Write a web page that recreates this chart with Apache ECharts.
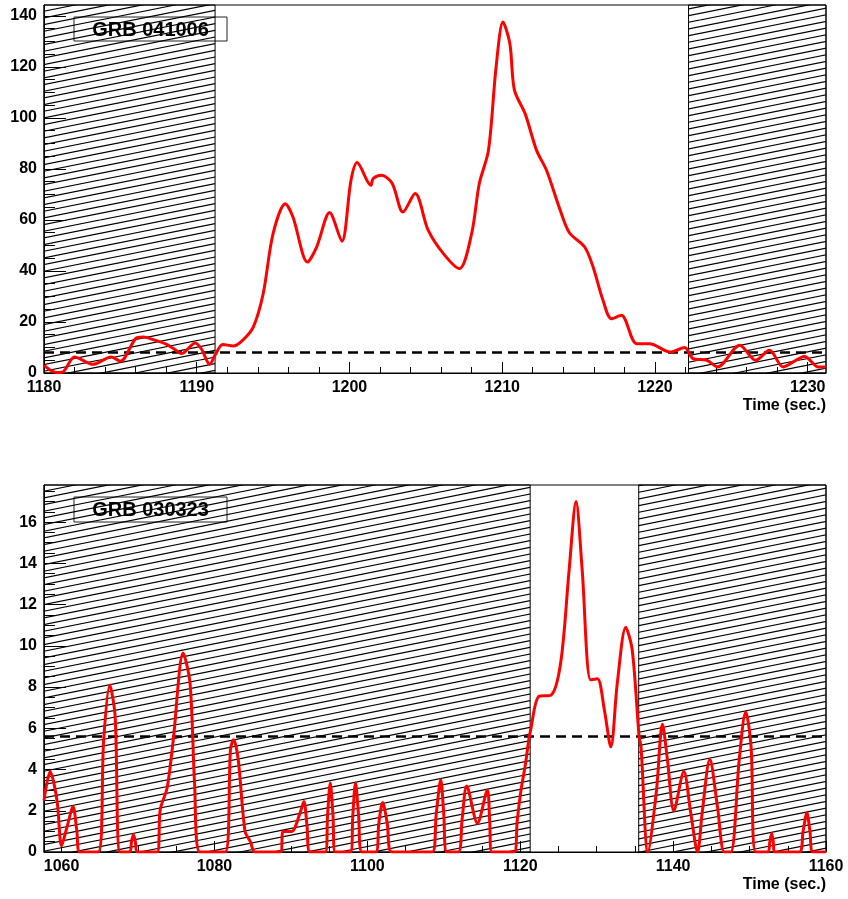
<!DOCTYPE html>
<html>
<head>
<meta charset="utf-8">
<script src="https://cdn.jsdelivr.net/npm/echarts@6/dist/echarts.min.js"></script>
<style>
html, body { margin: 0; padding: 0; background: #fff; }
#main { width: 848px; height: 899px; }
</style>
</head>
<body>
<div id="main"></div>
<script>
// GRB 041006 light curve (top)
var time041006 = [1180.0, 1180.8, 1181.2, 1182.0, 1183.2, 1184.4, 1185.0, 1186.0, 1186.5, 1187.2, 1188.0, 1188.5, 1189.0,
  1189.9, 1190.3, 1190.85, 1191.2, 1191.7, 1192.4, 1193.0, 1193.7, 1194.35, 1195.0, 1195.8, 1196.3, 1197.25, 1197.85,
  1198.7, 1199.5, 1200.1, 1200.5, 1201.4, 1201.55, 1202.1, 1202.8, 1203.5, 1204.3, 1205.15, 1206.15, 1207.2, 1208.0,
  1208.5, 1209.1, 1209.6, 1210.05, 1210.5, 1210.8, 1211.5, 1212.25, 1212.9, 1213.8, 1214.4, 1215.4, 1215.95, 1216.6,
  1217.15, 1217.8, 1218.8, 1219.65, 1221.0, 1221.95, 1222.5, 1223.4, 1224.1, 1225.55, 1226.6, 1227.5, 1228.4, 1229.8,
  1230.7, 1231.2]
var rate041006 = [3.0, 0.2, 0.3, 6.3, 3.4, 6.3, 4.6, 13.5, 14.1, 13.0, 11.3, 9.5, 7.6,
  11.8, 9.5, 3.4, 7.0, 11.2, 10.6, 12.8, 18.0, 31.1, 54.7, 66.4, 61.2, 43.5, 49.4,
  62.9, 51.7, 75.6, 82.5, 73.6, 76.2, 77.5, 74.3, 63.1, 70.4, 56.0, 46.8, 40.9, 54.7,
  74.3, 87.3, 120.0, 137.6, 129.2, 110.9, 101.7, 87.3, 79.5, 63.8, 55.0, 49.4, 41.6, 28.5,
  21.3, 22.6, 11.5, 11.5, 8.2, 10.0, 5.6, 5.0, 2.4, 10.9, 5.0, 8.9, 2.4, 6.5,
  2.4, 2.4]
var xRange041006 = [1180, 1231.2]
var yRange041006 = [0, 144.3]
var window041006 = [1191.2, 1222.2]
var thresh041006 = 8.2
var xLabels041006 = [1180, 1190, 1200, 1210, 1220, 1230]
var yLabels041006 = [0, 20, 40, 60, 80, 100, 120, 140]

// GRB 030323 light curve (bottom)
var time030323 = [1057.7, 1058.5, 1059.4, 1060.0, 1060.7, 1061.5, 1062.0, 1062.4, 1064.8, 1065.5, 1066.3, 1067.0,
  1067.65, 1068.9, 1069.15, 1069.4, 1069.65, 1069.9, 1072.5, 1072.9, 1073.8, 1074.6, 1075.9, 1076.8, 1077.4, 1078.1,
  1081.4, 1082.1, 1082.5, 1083.1, 1084.0, 1084.7, 1085.3, 1088.6, 1089.0, 1090.1, 1091.2, 1091.7, 1092.1, 1092.5,
  1094.5, 1094.8, 1095.15, 1095.5, 1095.8, 1097.8, 1098.1, 1098.45, 1098.85, 1099.3, 1101.1, 1101.5, 1102.0, 1102.6,
  1103.2, 1108.5, 1109.0, 1109.6, 1110.0, 1110.4, 1111.9, 1112.4, 1113.0, 1114.4, 1115.7, 1116.0, 1116.3, 1119.2,
  1119.6, 1120.1, 1120.7, 1121.1, 1121.35, 1122.45, 1124.0, 1125.3, 1126.4, 1127.3, 1128.1, 1129.2, 1130.1, 1131.0,
  1131.85, 1132.7, 1133.8, 1134.65, 1135.55, 1135.8, 1136.7, 1137.8, 1138.6, 1139.25, 1140.1, 1141.4, 1142.3, 1143.2,
  1143.8, 1144.8, 1145.8, 1146.7, 1147.55, 1148.65, 1149.5, 1150.2, 1150.8, 1152.4, 1152.65, 1152.9, 1153.1, 1153.25,
  1156.5, 1157.0, 1157.5, 1157.9, 1158.3, 1160.0]
var rate030323 = [2.5, 3.9, 2.5, 0.3, 1.2, 2.2, 1.0, 0.0, 0.0, 5.4, 8.1, 6.6,
  0.0, 0.0, 0.5, 0.85, 0.5, 0.0, 0.0, 2.05, 3.1, 5.4, 9.65, 8.2, 3.3, 0.0,
  0.0, 5.0, 5.45, 4.5, 1.0, 0.5, 0.0, 0.0, 1.0, 1.0, 1.9, 2.45, 1.3, 0.0,
  0.0, 1.8, 3.35, 1.8, 0.0, 0.0, 1.8, 3.35, 1.8, 0.0, 0.0, 1.4, 2.4, 1.4,
  0.0, 0.0, 1.8, 3.5, 1.8, 0.0, 0.0, 1.6, 3.2, 1.4, 3.0, 1.5, 0.0, 0.0,
  1.5, 3.0, 4.3, 5.4, 5.9, 7.55, 7.6, 9.2, 13.7, 17.0, 13.7, 8.35, 8.4, 6.9,
  5.1, 8.2, 10.9, 9.8, 5.6, 5.1, 0.0, 2.9, 6.2, 4.5, 2.0, 3.9, 1.9, 0.0,
  1.9, 4.5, 2.2, 0.0, 0.0, 4.5, 6.8, 5.1, 0.0, 0.0, 0.5, 0.9, 0.5, 0.0,
  0.0, 1.0, 1.9, 1.0, 0.0, 0.0]
var xRange030323 = [1057.7, 1160]
var yRange030323 = [0, 17.8]
var window030323 = [1121.3, 1135.5]
var thresh030323 = 5.6
var xLabels030323 = [1060, 1080, 1100, 1120, 1140, 1160]
var yLabels030323 = [0, 2, 4, 6, 8, 10, 12, 14, 16]

var FONT = '"Liberation Sans", Arial, Helvetica, sans-serif'

function steps(a, b, d) {
  var out = []
  for (var v = a; v <= b + 1e-9; v += d) out.push(Math.round(v * 1000) / 1000)
  return out
}

function pairs(xs, ys) {
  return xs.map(function (x, i) { return [x, ys[i]] })
}

// diagonal hatching tile
function makeHatch() {
  var W = 100, H = 20, n = 3
  var c = document.createElement('canvas')
  c.width = W
  c.height = H
  var ctx = c.getContext('2d')
  ctx.strokeStyle = '#000'
  ctx.lineWidth = 1.2
  for (var k = -n; k <= n; k++) {
    var y0 = H * k / n
    ctx.beginPath()
    ctx.moveTo(0, y0 + H)
    ctx.lineTo(W, y0)
    ctx.stroke()
  }
  return c
}
var hatch = makeHatch()

function plain(v) { return String(v) }

function xAxes(grid, range, labels, minors) {
  return [{
    gridIndex: grid, type: 'value', position: 'bottom', min: range[0], max: range[1],
    axisLine: { show: true, onZero: false, lineStyle: { color: '#000', width: 1 } },
    axisTick: { show: true, inside: true, length: 11, customValues: labels, lineStyle: { color: '#000' } },
    axisLabel: { customValues: labels, formatter: plain, color: '#000', fontWeight: 'bold', fontSize: 16, fontFamily: FONT, margin: 7 },
    splitLine: { show: false }
  }, {
    gridIndex: grid, type: 'value', position: 'bottom', min: range[0], max: range[1],
    axisLine: { show: false },
    axisTick: { show: true, inside: true, length: 6, customValues: minors, lineStyle: { color: '#000' } },
    axisLabel: { show: false },
    splitLine: { show: false }
  }]
}

function yAxes(grid, range, labels, minors) {
  return [{
    gridIndex: grid, type: 'value', position: 'left', min: range[0], max: range[1],
    axisLine: { show: true, onZero: false, lineStyle: { color: '#000', width: 1 } },
    axisTick: { show: true, inside: true, length: 22, customValues: labels, lineStyle: { color: '#000' } },
    axisLabel: { customValues: labels, formatter: plain, color: '#000', fontWeight: 'bold', fontSize: 16, fontFamily: FONT, margin: 7 },
    splitLine: { show: false }
  }, {
    gridIndex: grid, type: 'value', position: 'left', min: range[0], max: range[1],
    axisLine: { show: false },
    axisTick: { show: true, inside: true, length: 11, customValues: minors, lineStyle: { color: '#000' } },
    axisLabel: { show: false },
    splitLine: { show: false }
  }]
}

function curve(axisIdx, xs, ys, range, win, thr) {
  return {
    type: 'line', xAxisIndex: axisIdx, yAxisIndex: axisIdx,
    data: pairs(xs, ys),
    smooth: 0.3, showSymbol: false, symbol: 'none', clip: true,
    lineStyle: { color: '#ff0000', width: 3 },
    itemStyle: { color: '#ff0000' },
    z: 5,
    markArea: {
      silent: true,
      itemStyle: { color: { image: hatch, repeat: 'repeat' }, opacity: 1, borderColor: '#000', borderWidth: 1 },
      data: [
        [{ xAxis: range[0] }, { xAxis: win[0] }],
        [{ xAxis: win[1] }, { xAxis: range[1] }]
      ]
    },
    markLine: {
      silent: true, symbol: 'none', label: { show: false },
      lineStyle: { color: '#000', type: [10, 6], width: 2.5 },
      data: [{ yAxis: thr }]
    }
  }
}

function titleBox(x, y, w, h, text) {
  return {
    type: 'group', z: 100,
    children: [
      { type: 'rect', shape: { x: x, y: y, width: w, height: h }, style: { fill: '#fff', stroke: '#222', lineWidth: 1 } },
      { type: 'text', x: x + w / 2, y: y + h / 2 + 1,
        style: { text: text, fill: '#000', font: 'bold 20px ' + FONT, align: 'center', verticalAlign: 'middle' } }
    ]
  }
}

var chart = echarts.init(document.getElementById('main'))
chart.setOption({
  animation: false,
  backgroundColor: '#fff',
  grid: [
    { left: 44, top: 5, width: 782, height: 368, show: true, borderColor: '#000', borderWidth: 1, backgroundColor: 'transparent' },
    { left: 44, top: 485, width: 782, height: 367, show: true, borderColor: '#000', borderWidth: 1, backgroundColor: 'transparent' }
  ],
  xAxis: xAxes(0, xRange041006, xLabels041006, steps(1182, 1230, 2))
    .concat(xAxes(1, xRange030323, xLabels030323, steps(1060, 1160, 5))),
  yAxis: yAxes(0, yRange041006, yLabels041006, steps(0, 140, 5))
    .concat(yAxes(1, yRange030323, yLabels030323, steps(0, 17.5, 0.5))),
  series: [
    curve(0, time041006, rate041006, xRange041006, window041006, thresh041006),
    curve(2, time030323, rate030323, xRange030323, window030323, thresh030323)
  ],
  graphic: [
    titleBox(74, 17, 153, 24, 'GRB 041006'),
    titleBox(74, 497, 153, 25, 'GRB 030323'),
    { type: 'text', x: 826, y: 406, z: 100,
      style: { text: 'Time (sec.)', fill: '#000', font: 'bold 16px ' + FONT, align: 'right', verticalAlign: 'middle' } },
    { type: 'text', x: 826, y: 885, z: 100,
      style: { text: 'Time (sec.)', fill: '#000', font: 'bold 16px ' + FONT, align: 'right', verticalAlign: 'middle' } }
  ]
})
</script>
</body>
</html>
